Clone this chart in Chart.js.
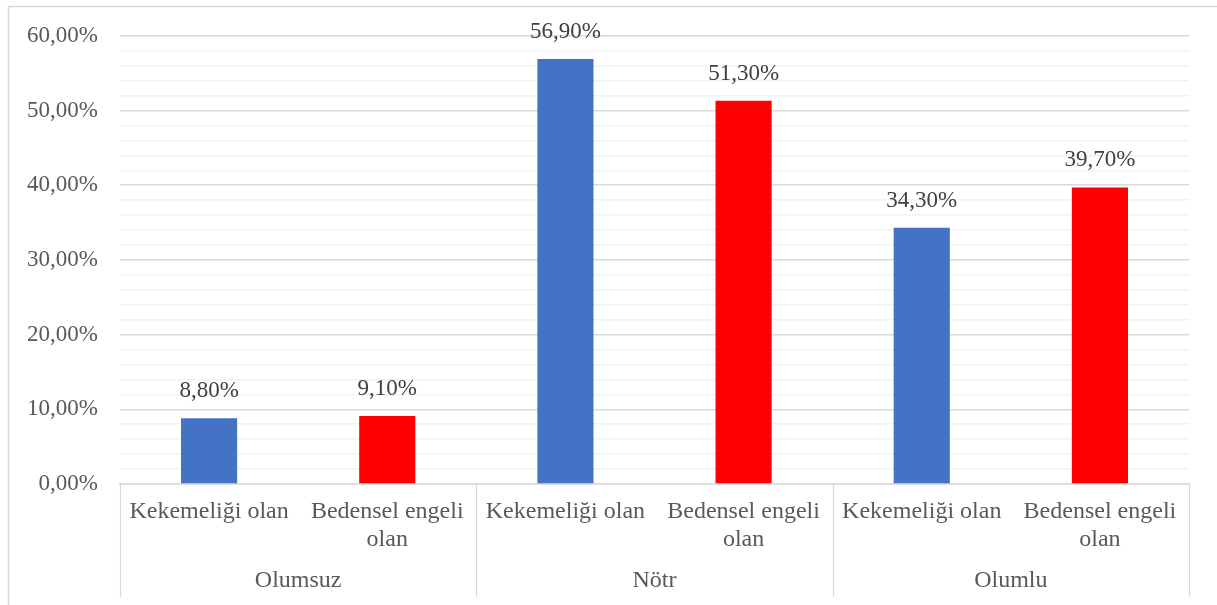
<!DOCTYPE html>
<html>
<head>
<meta charset="utf-8">
<script src="https://cdn.jsdelivr.net/npm/chart.js@4/dist/chart.umd.min.js"></script>
<style>
  html, body { margin: 0; padding: 0; background: #fff; }
  #wrap { width: 1217px; height: 605px; }
</style>
</head>
<body>
<div id="wrap"><canvas id="grafik" width="1217" height="605"></canvas></div>
<script>
// veriler
const gruplar = ['Olumsuz', 'Nötr', 'Olumlu'];
const altKategoriler = [['Kekemeliği olan'], ['Bedensel engeli', 'olan']];
const kekemelik = [8.8, 56.9, 34.3];
const bedensel = [9.1, 51.3, 39.7];
const yTikler = [0, 10, 20, 30, 40, 50, 60];

const mavi = '#4472C4';
const kirmizi = '#FF0000';
const yaziFont = "'Liberation Serif', 'Times New Roman', serif";

const etiketler = [];
const degerler = [];
const renkler = [];
gruplar.forEach((g, i) => {
  etiketler.push(altKategoriler[0], altKategoriler[1]);
  degerler.push(kekemelik[i], bedensel[i]);
  renkler.push(mavi, kirmizi);
});

const yuzde = v => v.toFixed(2).replace('.', ',') + '%';

// cerceve, grup ayiraclari ve grup etiketleri
const grupEklentisi = {
  id: 'grupEklentisi',
  afterDraw(chart) {
    const { ctx, chartArea, scales } = chart;
    const x = scales.x;
    const alt = chartArea.bottom;
    const genislik = (x.getPixelForValue(1) - x.getPixelForValue(0));
    ctx.save();
    ctx.strokeStyle = '#d9d9d9';
    ctx.lineWidth = 1.5;
    ctx.beginPath();
    ctx.moveTo(8.5, 610);
    ctx.lineTo(8.5, 6.5);
    ctx.lineTo(1220, 6.5);
    ctx.stroke();

    ctx.lineWidth = 1.2;
    for (let i = 0; i <= gruplar.length; i++) {
      const px = Math.round(x.getPixelForValue(i * 2) - genislik / 2) + 0.5;
      ctx.beginPath();
      ctx.moveTo(px, alt);
      ctx.lineTo(px, 597);
      ctx.stroke();
    }

    ctx.fillStyle = '#595959';
    ctx.font = '24px ' + yaziFont;
    ctx.textAlign = 'center';
    ctx.textBaseline = 'middle';
    gruplar.forEach((g, i) => {
      const merkez = (x.getPixelForValue(i * 2) + x.getPixelForValue(i * 2 + 1)) / 2;
      ctx.fillText(g, merkez, 581);
    });
    ctx.restore();
  }
};

// cubuk ustu etiketler
const degerEklentisi = {
  id: 'degerEklentisi',
  afterDatasetsDraw(chart) {
    const { ctx } = chart;
    const meta = chart.getDatasetMeta(0);
    ctx.save();
    ctx.fillStyle = '#404040';
    ctx.font = '23px ' + yaziFont;
    ctx.textAlign = 'center';
    ctx.textBaseline = 'middle';
    meta.data.forEach((bar, i) => {
      ctx.fillText(yuzde(degerler[i]), bar.x, bar.y - 27);
    });
    ctx.restore();
  }
};

new Chart(document.getElementById('grafik'), {
  type: 'bar',
  data: {
    labels: etiketler,
    datasets: [{
      data: degerler,
      backgroundColor: renkler,
      borderWidth: 0,
      barPercentage: 0.315,
      categoryPercentage: 1
    }]
  },
  options: {
    responsive: false,
    animation: false,
    layout: { padding: { left: 8, top: 35, right: 28, bottom: 0 } },
    plugins: {
      legend: { display: false },
      tooltip: { enabled: false }
    },
    scales: {
      x: {
        grid: { display: false },
        border: { color: '#d9d9d9', width: 1.5 },
        ticks: {
          autoSkip: false,
          maxRotation: 0,
          minRotation: 0,
          color: '#595959',
          padding: 6,
          font: { family: yaziFont, size: 24, lineHeight: 1.17 }
        },
        afterFit: s => { s.height = 121; }
      },
      y: {
        min: 0,
        max: 60,
        afterBuildTicks: s => {
          const t = [];
          for (let v = 0; v <= 60; v += 2) t.push({ value: v });
          s.ticks = t;
        },
        grid: {
          drawTicks: false,
          lineWidth: 1.5,
          color: c => (yTikler.includes(c.tick.value) ? '#d9d9d9' : '#f2f2f2')
        },
        border: { display: false },
        ticks: {
          autoSkip: false,
          padding: 22,
          color: '#595959',
          font: { family: yaziFont, size: 23 },
          callback: v => (yTikler.includes(v) ? yuzde(v) : '')
        },
        afterFit: s => { s.width = 112; }
      }
    }
  },
  plugins: [grupEklentisi, degerEklentisi]
});
</script>
</body>
</html>
